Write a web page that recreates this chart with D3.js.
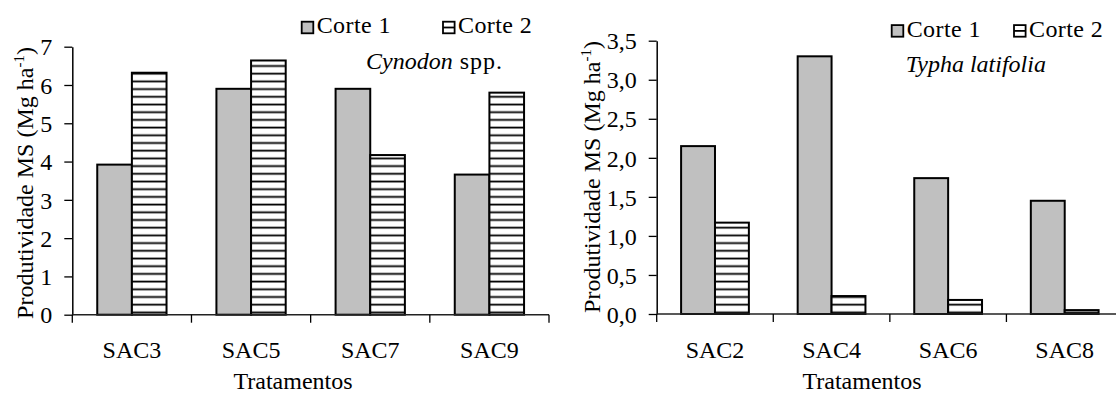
<!DOCTYPE html>
<html>
<head>
<meta charset="utf-8">
<script src="https://cdn.jsdelivr.net/npm/d3@7"></script>
<style>
  body { margin: 0; background: #fff; }
  svg text { font-family: "Liberation Serif", "Times New Roman", "DejaVu Serif", serif; fill: #000; }
</style>
</head>
<body>
<div id="chart"></div>
<script>
// valores
const seriesNames = ["Corte 1", "Corte 2"];

const cynodonCats = ["SAC3", "SAC5", "SAC7", "SAC9"];
const cynodonCorte1 = [3.92, 5.9, 5.9, 3.66];
const cynodonCorte2 = [6.32, 6.64, 4.17, 5.8];
const cynodonTicks = [0, 1, 2, 3, 4, 5, 6, 7];

const typhaCats = ["SAC2", "SAC4", "SAC6", "SAC8"];
const typhaCorte1 = [2.15, 3.3, 1.74, 1.45];
const typhaCorte2 = [1.17, 0.23, 0.18, 0.05];
const typhaTicks = [0, 0.5, 1, 1.5, 2, 2.5, 3, 3.5];

const serif = "'Liberation Serif', 'Times New Roman', serif";

const svg = d3.select("#chart")
    .append("svg")
    .attr("width", 1116)
    .attr("height", 394)
    .attr("font-family", serif);

// listras horizontais do Corte 2
const defs = svg.append("defs");
const hatch = defs.append("pattern")
    .attr("id", "hatch")
    .attr("patternUnits", "userSpaceOnUse")
    .attr("width", 10)
    .attr("height", 7.7);
hatch.append("rect").attr("width", 10).attr("height", 7.7).attr("fill", "#fff");
hatch.append("line")
    .attr("x1", 0).attr("x2", 10)
    .attr("y1", 4.4).attr("y2", 4.4)
    .attr("stroke", "#000")
    .attr("stroke-width", 1.8);

const fillFor = s => s === "Corte 1" ? "#c0c0c0" : "url(#hatch)";

function drawChart(opt) {
    const y = d3.scaleLinear().domain([0, opt.max]).range([opt.bottom, opt.top]);
    const x0 = d3.scaleBand().domain(opt.cats).range([opt.left, opt.right]);
    const x1 = d3.scaleBand().domain(seriesNames).range([0, x0.bandwidth()]).paddingOuter(0.72);

    // eixo y
    const yAxis = svg.append("g")
        .attr("transform", `translate(${opt.left},0)`)
        .call(d3.axisLeft(y)
            .tickValues(opt.ticks)
            .tickSize(8)
            .tickSizeOuter(0)
            .tickPadding(12)
            .tickFormat(opt.fmt))
        .attr("font-family", serif)
        .attr("font-size", 24);
    yAxis.select(".domain").attr("stroke", "#000").attr("stroke-width", 1.5);
    yAxis.selectAll(".tick line").attr("stroke", "#000").attr("stroke-width", 1.3);
    yAxis.selectAll(".tick text").attr("dy", "0.34em");

    // barras
    const rows = opt.cats.map((c, i) => ({ cat: c, vals: [
        { s: "Corte 1", v: opt.c1[i] },
        { s: "Corte 2", v: opt.c2[i] }
    ]}));

    svg.append("g")
        .selectAll("g")
        .data(rows)
        .join("g")
        .selectAll("rect")
        .data(d => d.vals.map(v => ({ ...v, cat: d.cat })))
        .join("rect")
        .attr("x", d => x0(d.cat) + x1(d.s))
        .attr("y", d => y(d.v))
        .attr("width", x1.bandwidth())
        .attr("height", d => y(0) - y(d.v))
        .attr("fill", d => fillFor(d.s))
        .attr("stroke", "#000")
        .attr("stroke-width", 2);

    // eixo x
    const xg = svg.append("g");
    xg.append("line")
        .attr("x1", opt.left).attr("x2", opt.right)
        .attr("y1", y(0)).attr("y2", y(0))
        .attr("stroke", "#222")
        .attr("stroke-width", 1.5);
    const bounds = opt.cats.map(c => x0(c)).concat([opt.right]);
    xg.selectAll(".xtick")
        .data(bounds)
        .join("line")
        .attr("class", "xtick")
        .attr("x1", d => d).attr("x2", d => d)
        .attr("y1", y(0)).attr("y2", y(0) + 8)
        .attr("stroke", "#000")
        .attr("stroke-width", 1.3);
    xg.selectAll(".xlabel")
        .data(opt.cats)
        .join("text")
        .attr("class", "xlabel")
        .attr("x", d => x0(d) + x0.bandwidth() / 2)
        .attr("y", 358)
        .attr("text-anchor", "middle")
        .attr("font-size", 24)
        .text(d => d);

    // título x
    svg.append("text")
        .attr("x", opt.xTitleX)
        .attr("y", 389)
        .attr("text-anchor", "middle")
        .attr("font-size", 24)
        .text("Tratamentos");

    // título y
    const yt = svg.append("text")
        .attr("transform", `translate(${opt.yTitleX},${opt.yTitleY}) rotate(-90)`)
        .attr("text-anchor", "middle")
        .attr("font-size", 24);
    yt.append("tspan").text("Produtividade MS (Mg ha");
    yt.append("tspan").attr("font-size", 15).attr("dy", -9).text("-1");
    yt.append("tspan").attr("dy", 9).text(")");

    // legenda
    const lg = svg.append("g");
    opt.legend.forEach((l, i) => {
        lg.append("rect")
            .attr("x", l.x).attr("y", opt.legendY - 11.6)
            .attr("width", 11.6).attr("height", 11.6)
            .attr("fill", i === 0 ? "#c0c0c0" : "#fff")
            .attr("stroke", "#000")
            .attr("stroke-width", 1.8);
        if (i === 1) {
            lg.append("line")
                .attr("x1", l.x).attr("x2", l.x + 11.6)
                .attr("y1", opt.legendY - 5.8).attr("y2", opt.legendY - 5.8)
                .attr("stroke", "#000")
                .attr("stroke-width", 1.8);
        }
        lg.append("text")
            .attr("x", l.x + 15)
            .attr("y", opt.legendY)
            .attr("font-size", 24)
            .attr("letter-spacing", 0.4)
            .text(seriesNames[i]);
    });
}

const commaFmt = d => d3.format(".1f")(d).replace(".", ",");

drawChart({
    cats: cynodonCats, c1: cynodonCorte1, c2: cynodonCorte2,
    ticks: cynodonTicks, max: 7, fmt: d3.format("d"),
    left: 72.3, right: 549, top: 46.7, bottom: 314.7,
    xTitleX: 293, yTitleX: 33, yTitleY: 183,
    legendY: 33.3, legend: [{ x: 301.7 }, { x: 443 }]
});

drawChart({
    cats: typhaCats, c1: typhaCorte1, c2: typhaCorte2,
    ticks: typhaTicks, max: 3.5, fmt: commaFmt,
    left: 656.7, right: 1123, top: 40.7, bottom: 314,
    xTitleX: 862, yTitleX: 600, yTitleY: 177,
    legendY: 36.7, legend: [{ x: 891.7 }, { x: 1014 }]
});

// nomes das espécies
const sp1 = svg.append("text").attr("x", 366).attr("y", 69.3).attr("font-size", 24);
sp1.append("tspan").attr("font-style", "italic").text("Cynodon");
sp1.append("tspan").attr("dx", 7).attr("letter-spacing", 1).text("spp.");

svg.append("text")
    .attr("x", 905.7).attr("y", 72)
    .attr("font-size", 24)
    .attr("font-style", "italic")
    .text("Typha latifolia");
</script>
</body>
</html>
